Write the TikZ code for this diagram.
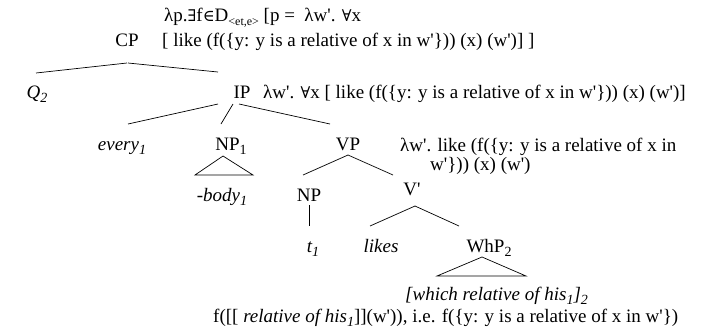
\documentclass[tikz,border=0pt]{standalone}
\usepackage{fontspec}
\newfontfamily\tnr{Liberation Serif}
\newfontfamily\symf{DejaVu Serif}[Scale=0.85]
\newcommand\lsub[1]{\raisebox{-4.5pt}{\fontsize{14}{14}\selectfont #1}}
\newcommand\dsub[1]{\raisebox{-4pt}{\fontsize{12}{12}\selectfont #1}}
\newcommand\myEx{{\symf ∃}}
\newcommand\myIn{{\symf ∈}}
\newcommand\myAll{{\symf ∀}}
\begin{document}
\begin{tikzpicture}[x=1pt,y=-1pt,
  font=\tnr\fontsize{19}{19}\selectfont,
  lab/.style={anchor=base, inner sep=0pt},
  txt/.style={anchor=base west, inner sep=0pt},
  edge/.style={line width=0.7pt}]
\useasboundingbox (0,0) rectangle (714,330);

% labels
\node[txt] (top1) at (164,21) {λp.\myEx f\myIn D\dsub{<et,e>} [p = \ λw'. \myAll x};
\node[lab] (CP) at (127,46) {CP};
\node[txt] (cpsem) at (162,46) {[ like (f(\{y: y is a relative of x in w'\})) (x) (w')] ]};
\node[lab] (Q) at (37,98) {\textit{Q\lsub{2}}};
\node[lab] (IP) at (242,98) {IP};
\node[txt] (ipsem) at (263,98) {λw'. \myAll x [ like (f(\{y: y is a relative of x in w'\})) (x) (w')]};
\node[lab] (every) at (122,150) {\textit{every\lsub{1}}};
\node[lab] (NP1) at (231,150) {NP\lsub{1}};
\node[lab] (VP) at (348,150) {VP};
\node[txt] (vpsem1) at (400,151) {λw'. like (f(\{y: y is a relative of x in};
\node[txt] (vpsem2) at (430,170) {w'\})) (x) (w')};
\node[lab] (body) at (222,201) {\textit{-body\lsub{1}}};
\node[lab] (NP) at (309,201) {NP};
\node[lab] (Vbar) at (412,195) {V'};
\node[lab] (t) at (313,252) {\textit{t\lsub{1}}};
\node[lab] (likes) at (381,252) {\textit{likes}};
\node[lab] (WhP) at (489,252) {WhP\lsub{2}};
\node[txt] (which) at (405,300) {\textit{[which relative of his\lsub{1}]\lsub{2}}};
\node[txt] (bottom) at (213,322) {f([[ \textit{relative of his\lsub{1}}]](w')), i.e. f(\{y: y is a relative of x in w'\})};

% branch points
\coordinate (cpA) at (127,63);
\coordinate (cpL) at (36,73);
\coordinate (cpB) at (128,63);
\coordinate (cpR) at (218,72);
\coordinate (ipA1) at (218,104);
\coordinate (ipL) at (128,124);
\coordinate (ipA2) at (233,104);
\coordinate (ipM) at (221,124);
\coordinate (ipA3) at (239,104);
\coordinate (ipR) at (330,124);
\coordinate (np1A) at (223,156);
\coordinate (np1L) at (195,175);
\coordinate (np1R) at (253,175);
\coordinate (vpA) at (348,155);
\coordinate (vpL) at (303,175);
\coordinate (vpR) at (393,175);
\coordinate (npT) at (309,205);
\coordinate (npB) at (309,226);
\coordinate (vbA) at (415,206);
\coordinate (vbL) at (370,226);
\coordinate (vbR) at (459,226);
\coordinate (whA) at (482,257);
\coordinate (whL) at (437,276);
\coordinate (whR) at (526,276);

\draw[edge] (cpA) -- (cpL);
\draw[edge] (cpB) -- (cpR);
\draw[edge] (ipA1) -- (ipL);
\draw[edge] (ipA2) -- (ipM);
\draw[edge] (ipA3) -- (ipR);
\draw[edge] (np1L) -- (np1A) -- (np1R) -- cycle;
\draw[edge] (vpA) -- (vpL);
\draw[edge] (vpA) -- (vpR);
\draw[edge] (npT) -- (npB);
\draw[edge] (vbA) -- (vbL);
\draw[edge] (vbA) -- (vbR);
\draw[edge] (whL) -- (whA) -- (whR) -- cycle;
\end{tikzpicture}
\end{document}
